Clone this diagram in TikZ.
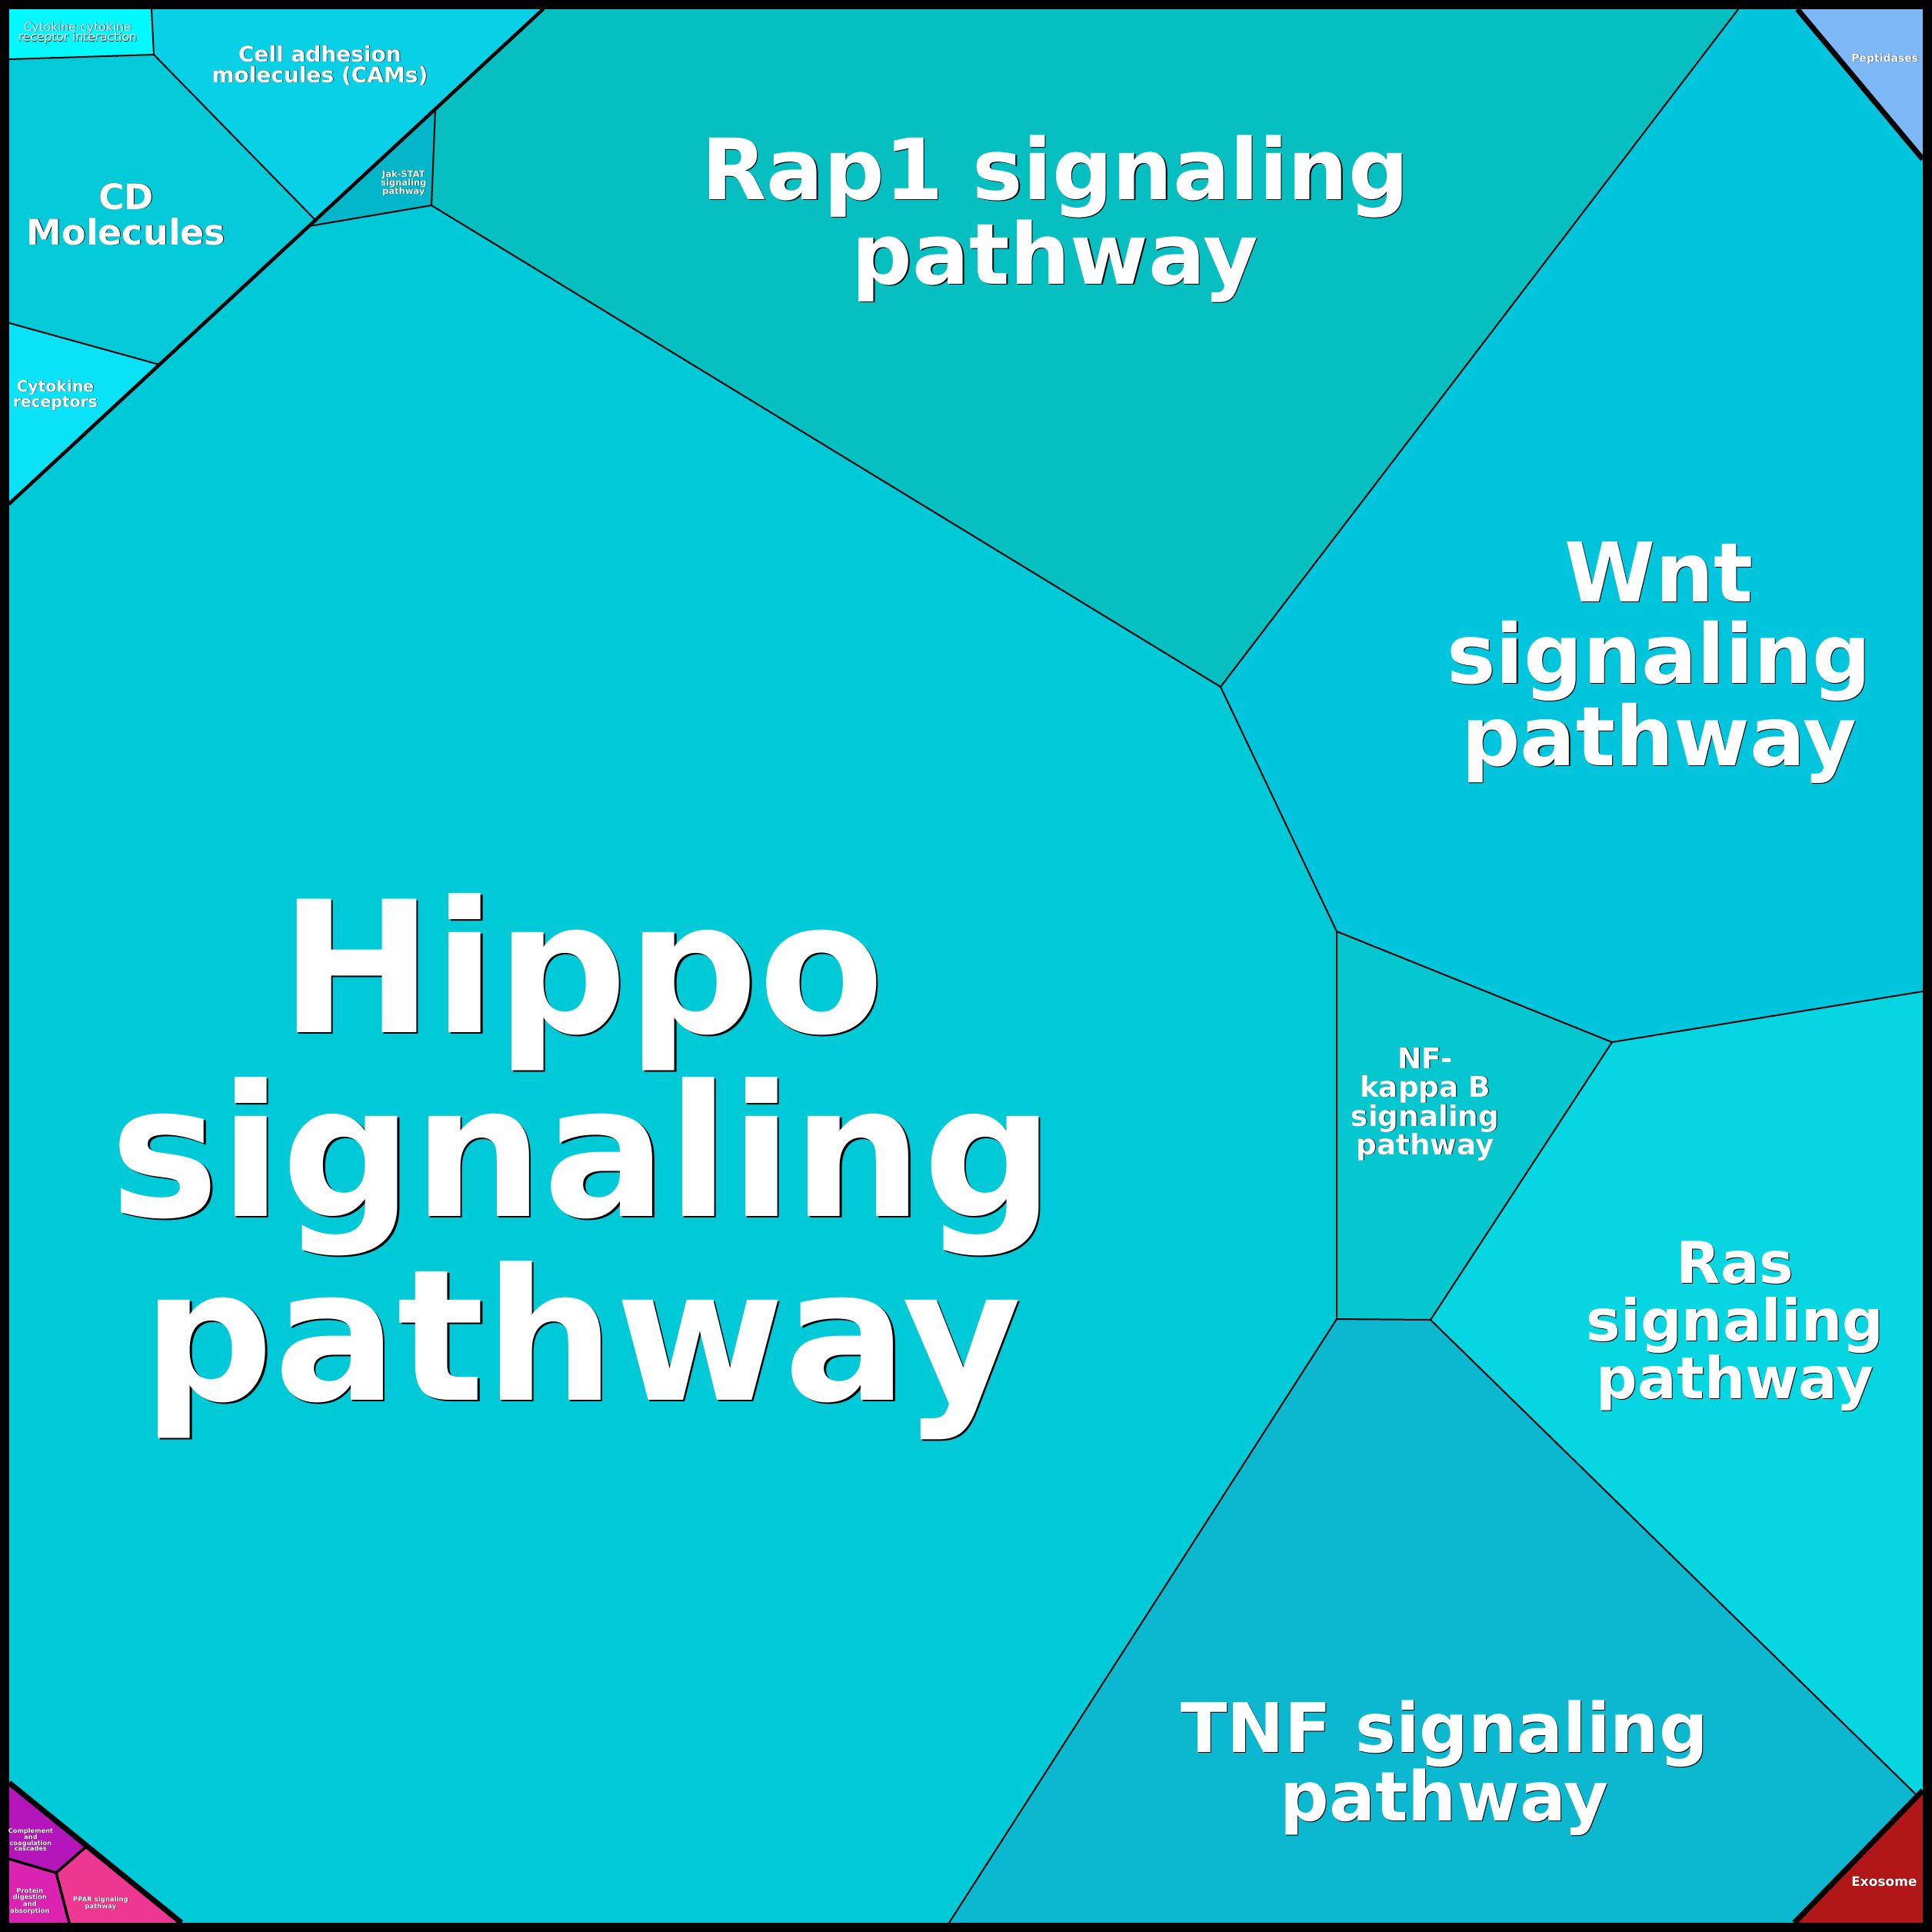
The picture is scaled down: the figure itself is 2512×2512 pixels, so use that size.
\documentclass[tikz,border=0pt]{standalone}
\usepackage{fontspec}
\setmainfont{DejaVu Sans}
\definecolor{cHippo}{HTML}{00C9D8}
\definecolor{cRap}{HTML}{05BFC1}
\definecolor{cWnt}{HTML}{00C5DD}
\definecolor{cNFkB}{HTML}{05C7CF}
\definecolor{cRas}{HTML}{06D6E1}
\definecolor{cTNF}{HTML}{0BB8CF}
\definecolor{cCD}{HTML}{03CAD9}
\definecolor{cCAM}{HTML}{08D0E6}
\definecolor{cCC}{HTML}{00FAFF}
\definecolor{cCR}{HTML}{0AE2F8}
\definecolor{cJak}{HTML}{04B6CA}
\definecolor{cPep}{HTML}{7EB8F7}
\definecolor{cExo}{HTML}{B21717}
\definecolor{cComp}{HTML}{B516BB}
\definecolor{cProt}{HTML}{DB22B0}
\definecolor{cPPAR}{HTML}{EE3790}
\tikzset{
  lbltext/.style={anchor=base, inner sep=0pt, outer sep=0pt},
  thinedge/.style={line width=0.4pt, line join=round},
  midedge/.style={line width=0.9pt, line cap=round},
  pinkedge/.style={line width=0.7pt, line cap=round},
  topedge/.style={line width=1.4pt},
}
% #1 font switch, #2 name, #3 x, #4 baseline y, #5 size (px), #6 text
\newcommand\lblline[6][\bfseries]{%
  \pgfmathsetmacro\lblsh{0.4+#5*0.008}%
  \pgfmathsetmacro\lblfs{#5*0.2}%
  \pgfmathsetmacro\lblx{#3+\lblsh}%
  \pgfmathsetmacro\lbly{#4+\lblsh}%
  \node[lbltext, text=black] (#2s) at (\lblx,\lbly) {\fontsize{\lblfs pt}{\lblfs pt}\selectfont#1\relax #6};
  \node[lbltext, text=white] (#2) at (#3,#4) {\fontsize{\lblfs pt}{\lblfs pt}\selectfont#1\relax #6};
}
\begin{document}
\begin{tikzpicture}[x=0.2pt, y=-0.2pt]
\useasboundingbox (0,0) rectangle (2512,2512);
\fill[black] (0,0) rectangle (2512,2512);
% cells
\fill[cCC] (12,12) -- (197,12) -- (200,71) -- (12,77) -- cycle;
\fill[cCAM] (197,12) -- (706,12) -- (566,142) -- (410,286) -- (200,71) -- cycle;
\fill[cCD] (12,77) -- (200,71) -- (410,286) -- (207,474) -- (12,420) -- cycle;
\fill[cCR] (12,420) -- (207,474) -- (12,655) -- cycle;
\fill[cJak] (566,142) -- (561,267) -- (402,294) -- cycle;
\fill[cRap] (706,12) -- (2260,12) -- (1587,893) -- (561,267) -- (566,142) -- cycle;
\fill[cWnt] (2260,12) -- (2337,12) -- (2500,207) -- (2500,1289) -- (2096,1355) -- (1738,1211) -- (1587,893) -- cycle;
\fill[cPep] (2337,12) -- (2500,12) -- (2500,207) -- cycle;
\fill[cNFkB] (1738,1211) -- (2096,1355) -- (1860,1716) -- (1738,1715) -- cycle;
\fill[cRas] (2096,1355) -- (2500,1289) -- (2500,2328) -- (2491,2333) -- (1860,1716) -- cycle;
\fill[cTNF] (1738,1715) -- (1860,1716) -- (2491,2333) -- (2333,2500) -- (1234,2500) -- cycle;
\fill[cExo] (2500,2328) -- (2500,2500) -- (2333,2500) -- cycle;
\fill[cHippo] (12,655) -- (402,294) -- (561,267) -- (1587,893) -- (1738,1211) -- (1738,1715) -- (1234,2500) -- (236,2500) -- (12,2318) -- cycle;
\fill[cComp] (12,2318) -- (112,2401) -- (73,2435) -- (12,2417) -- cycle;
\fill[cProt] (12,2417) -- (73,2435) -- (90,2500) -- (12,2500) -- cycle;
\fill[cPPAR] (73,2435) -- (112,2401) -- (236,2500) -- (90,2500) -- cycle;
% thin boundaries
\draw[thinedge] (197,12) -- (200,71) -- (12,77);
\draw[thinedge] (200,71) -- (410,286);
\draw[thinedge] (12,420) -- (207,474);
\draw[thinedge] (566,142) -- (561,267) -- (402,294);
\draw[thinedge] (561,267) -- (1587,893) -- (2260,12);
\draw[thinedge] (1587,893) -- (1738,1211) -- (2096,1355) -- (2500,1289);
\draw[thinedge] (2096,1355) -- (1860,1716) -- (1738,1715) -- (1738,1211);
\draw[thinedge] (1860,1716) -- (2491,2333);
\draw[thinedge] (1738,1715) -- (1234,2500);
% pink group inner boundaries
\draw[pinkedge] (12,2417) -- (73,2435) -- (112,2401);
\draw[pinkedge] (73,2435) -- (90,2500);
% second level boundary
\draw[midedge] (706,12) -- (12,655);
% top level boundaries
\draw[topedge] (2337,12) -- (2500,207);
\draw[topedge] (2500,2328) -- (2333,2500);
\draw[topedge] (12,2318) -- (236,2500);
% frame
\draw[line width=4.8pt] (0,0) rectangle (2512,2512);
% labels
\lblline{hippoA}{757}{1342}{238}{Hippo}
\lblline{hippoB}{757}{1581}{238}{signaling}
\lblline{hippoC}{757}{1820}{238}{pathway}
\lblline{rapA}{1372}{259}{110}{Rap1 signaling}
\lblline{rapB}{1372}{369}{110}{pathway}
\lblline{wntA}{2157}{782}{107}{Wnt}
\lblline{wntB}{2157}{888}{107}{signaling}
\lblline{wntC}{2157}{995}{107}{pathway}
\lblline{nfA}{1853}{1389}{37.3}{NF-}
\lblline{nfB}{1853}{1426}{37.3}{kappa B}
\lblline{nfC}{1853}{1464}{37.3}{signaling}
\lblline{nfD}{1853}{1501}{37.3}{pathway}
\lblline{rasA}{2256}{1668}{75}{Ras}
\lblline{rasB}{2256}{1743}{75}{signaling}
\lblline{rasC}{2256}{1818}{75}{pathway}
\lblline{tnfA}{1878}{2278}{89}{TNF signaling}
\lblline{tnfB}{1878}{2367}{89}{pathway}
\lblline{cdA}{164}{272}{46}{CD}
\lblline{cdB}{164}{318}{46}{Molecules}
\lblline{camA}{416}{80}{28}{Cell adhesion}
\lblline{camB}{416}{107}{28}{molecules (CAMs)}
\lblline{crA}{72}{509}{20.3}{Cytokine}
\lblline{crB}{72}{529}{20.3}{receptors}
\lblline[\mdseries]{ccA}{101}{40}{15.5}{Cytokine-cytokine}
\lblline[\mdseries]{ccB}{101}{53.5}{15.5}{receptor interaction}
\lblline{jakA}{525}{230}{11.5}{Jak-STAT}
\lblline{jakB}{525}{241}{11.5}{signaling}
\lblline{jakC}{525}{252}{11.5}{pathway}
\lblline{pep}{2451}{80}{14}{Peptidases}
\lblline{exo}{2450}{2452}{17}{Exosome}
\lblline{compA}{40}{2383}{8.2}{Complement}
\lblline{compB}{40}{2391}{8.2}{and}
\lblline{compC}{40}{2399}{8.2}{coagulation}
\lblline{compD}{40}{2406}{8.2}{cascades}
\lblline{protA}{39}{2461}{8.4}{Protein}
\lblline{protB}{39}{2469}{8.4}{digestion}
\lblline{protC}{39}{2478}{8.4}{and}
\lblline{protD}{39}{2487}{8.4}{absorption}
\lblline{pparA}{131}{2472}{8.5}{PPAR signaling}
\lblline{pparB}{131}{2481}{8.5}{pathway}
\end{tikzpicture}
\end{document}
